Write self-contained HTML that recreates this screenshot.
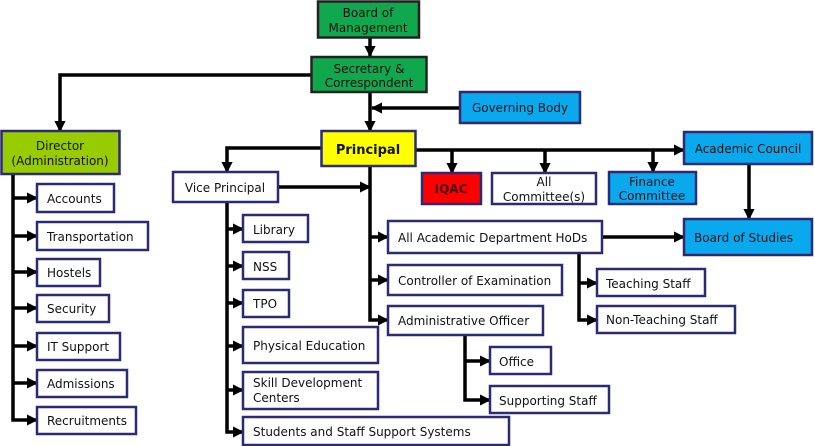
<!DOCTYPE html>
<html><head><meta charset="utf-8"><style>
html,body{margin:0;padding:0;background:#fff;}
svg{display:block;}
text{font-family:"DejaVu Sans","Liberation Sans",sans-serif;font-size:12px;fill:#111;}
</style></head><body>
<svg width="815" height="446" viewBox="0 0 815 446" xmlns="http://www.w3.org/2000/svg">
<defs>
<marker id="a" viewBox="0 0 10 10" refX="9" refY="5" markerWidth="3.2" markerHeight="3.2" orient="auto"><path d="M0,0L10,5L0,10z" fill="#000"/></marker>
</defs>
<g stroke="#000" stroke-width="3.5" fill="none">
<path d="M370,38V56" marker-end="url(#a)"/>
<path d="M370,92V131" marker-end="url(#a)"/>
<path d="M460,108H372" marker-end="url(#a)"/>
<path d="M311,75H60V131" marker-end="url(#a)"/>
<path d="M321,148H227V172" marker-end="url(#a)"/>
<path d="M416,150H684" marker-end="url(#a)"/>
<path d="M452,150V173" marker-end="url(#a)"/>
<path d="M545,150V173" marker-end="url(#a)"/>
<path d="M653,150V172" marker-end="url(#a)"/>
<path d="M749,164V219" marker-end="url(#a)"/>
<path d="M602,237H684" marker-end="url(#a)"/>
<path d="M370,166V320H388" marker-end="url(#a)"/>
<path d="M370,237H388" marker-end="url(#a)"/>
<path d="M370,280H388" marker-end="url(#a)"/>
<path d="M278,187H370" marker-end="url(#a)"/>
<path d="M579,253V320H597" marker-end="url(#a)"/>
<path d="M579,283H597" marker-end="url(#a)"/>
<path d="M465,335V400H490" marker-end="url(#a)"/>
<path d="M465,361H490" marker-end="url(#a)"/>
<path d="M13,174V420H37" marker-end="url(#a)"/>
<path d="M13,198H37" marker-end="url(#a)"/>
<path d="M13,236H37" marker-end="url(#a)"/>
<path d="M13,272H37" marker-end="url(#a)"/>
<path d="M13,308H37" marker-end="url(#a)"/>
<path d="M13,346H37" marker-end="url(#a)"/>
<path d="M13,383H37" marker-end="url(#a)"/>
<path d="M227,202V432H243" marker-end="url(#a)"/>
<path d="M227,229H243" marker-end="url(#a)"/>
<path d="M227,266H243" marker-end="url(#a)"/>
<path d="M227,303H243" marker-end="url(#a)"/>
<path d="M227,346H243" marker-end="url(#a)"/>
<path d="M227,390H243" marker-end="url(#a)"/>
</g>
<g stroke="#2b2b75" stroke-width="2.5">
<rect x="318" y="1.5" width="101" height="36" fill="#0fa84d" stroke="#222"/>
<rect x="311.5" y="57" width="115" height="35" fill="#0fa84d" stroke="#222"/>
<rect x="460" y="92" width="120" height="31" fill="#0aa8ec"/>
<rect x="1.5" y="131" width="118" height="43" fill="#99cc00"/>
<rect x="321.5" y="131" width="94" height="35" fill="#ffff00"/>
<rect x="684" y="132" width="128" height="32" fill="#0aa8ec"/>
<rect x="422" y="173" width="59" height="31" fill="#ff0000"/>
<rect x="492" y="173" width="104" height="31" fill="#fff"/>
<rect x="609" y="172" width="87" height="32" fill="#0aa8ec"/>
<rect x="173" y="172" width="105" height="30" fill="#fff"/>
<rect x="684" y="219" width="128" height="36" fill="#0aa8ec"/>
<rect x="388" y="221" width="214" height="32" fill="#fff"/>
<rect x="388" y="265" width="174" height="30" fill="#fff"/>
<rect x="388" y="306" width="155" height="29" fill="#fff"/>
<rect x="597" y="269" width="108" height="27" fill="#fff"/>
<rect x="597" y="306" width="138" height="27" fill="#fff"/>
<rect x="490" y="347" width="61" height="27" fill="#fff"/>
<rect x="490" y="386" width="119" height="27" fill="#fff"/>
<rect x="37" y="184" width="77" height="28" fill="#fff"/>
<rect x="37" y="222" width="111" height="28" fill="#fff"/>
<rect x="37" y="259" width="63" height="27" fill="#fff"/>
<rect x="37" y="295" width="72" height="27" fill="#fff"/>
<rect x="37" y="333" width="83" height="27" fill="#fff"/>
<rect x="37" y="370" width="90" height="27" fill="#fff"/>
<rect x="37" y="407" width="99" height="27" fill="#fff"/>
<rect x="243" y="215" width="65" height="27" fill="#fff"/>
<rect x="243" y="252" width="46" height="27" fill="#fff"/>
<rect x="243" y="290" width="46" height="27" fill="#fff"/>
<rect x="243" y="327" width="135" height="36" fill="#fff"/>
<rect x="243" y="372" width="135" height="37" fill="#fff"/>
<rect x="243" y="417" width="266" height="28" fill="#fff"/>
</g>
<g text-anchor="middle">
<text x="368" y="17">Board of</text><text x="368" y="32">Management</text>
<text x="369" y="73">Secretary &amp;</text><text x="369" y="87">Correspondent</text>
<text x="520" y="112">Governing Body</text>
<text x="60" y="150">Director</text><text x="60" y="165">(Administration)</text>
<text x="368" y="154" style="font-weight:bold;font-size:13px">Principal</text>
<text x="748" y="153">Academic Council</text>
<text x="451" y="193" style="font-weight:bold;fill:#400">IQAC</text>
<text x="544" y="186">All</text><text x="544" y="201">Committee(s)</text>
<text x="652" y="186">Finance</text><text x="652" y="200">Committee</text>
<text x="225" y="192">Vice Principal</text>
</g>
<text x="694" y="242">Board of Studies</text>
<text x="398" y="242">All Academic Department HoDs</text>
<text x="398" y="285">Controller of Examination</text>
<text x="398" y="325">Administrative Officer</text>
<text x="606" y="288">Teaching Staff</text>
<text x="606" y="324">Non-Teaching Staff</text>
<text x="499" y="366">Office</text>
<text x="499" y="405">Supporting Staff</text>
<text x="47" y="203">Accounts</text>
<text x="47" y="241">Transportation</text>
<text x="47" y="277">Hostels</text>
<text x="47" y="313">Security</text>
<text x="47" y="351">IT Support</text>
<text x="47" y="388">Admissions</text>
<text x="47" y="425">Recruitments</text>
<text x="253" y="234">Library</text>
<text x="253" y="271">NSS</text>
<text x="253" y="308">TPO</text>
<text x="253" y="350">Physical Education</text>
<text x="253" y="387">Skill Development</text>
<text x="253" y="402">Centers</text>
<text x="253" y="436">Students and Staff Support Systems</text>
</svg>
</body></html>
